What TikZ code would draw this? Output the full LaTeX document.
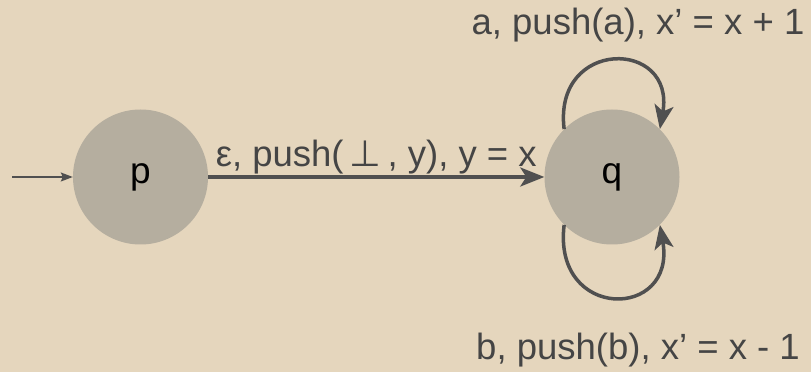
\documentclass[tikz,border=0pt]{standalone}
\usepackage{fontspec}
\setmainfont{Liberation Sans}
\newfontfamily\symfont{DejaVu Sans}
\usetikzlibrary{arrows.meta,positioning}
\definecolor{bgbeige}{HTML}{E5D6BD}
\definecolor{stategray}{HTML}{B5AE9F}
\definecolor{edgegray}{HTML}{505050}
\definecolor{textgray}{HTML}{454545}

\begin{document}
\begin{tikzpicture}[x=1pt, y=1pt, node distance=471.5pt, auto]
        \tikzstyle{state} = [circle, fill=stategray, minimum size=135pt, inner sep=0pt, font=\fontsize{37}{44}\selectfont]
        \tikzstyle{trans} = [draw=edgegray, line width=3.5pt, -{Stealth[length=24pt, width=19pt, inset=6pt]}]
        \tikzstyle{lbl} = [text=textgray, font=\fontsize{36.5}{44}\selectfont]

        \fill[bgbeige] (0,0) rectangle (811,372);
        \useasboundingbox (0,0) rectangle (811,372);

        \node [state] (p) at (140.5,195) {p};
        \node [state, right of=p] (q) {q};
        \coordinate (start) at (12,195);

        \draw [edgegray, line width=1.5pt, -{Stealth[length=12pt, width=9pt, inset=2pt]}] (start) -- (p);
        \draw [trans] (p) -- node[lbl, above, inner sep=1pt, name=pq] {ε, push(\,{\symfont ⊥}\,, y), y = x} (q);
        \draw [trans] (q.135) .. controls +(97:92) and +(80:92) .. (q.45);
        \draw [trans] (q.-135) .. controls +(-97:97) and +(-80:97) .. (q.-45);

        \node [lbl] (loopa) at (638,347) {a, push(a), x’ = x + 1};
        \node [lbl] (loopb) at (638,22) {b, push(b), x’ = x - 1};
    \end{tikzpicture}
\end{document}
